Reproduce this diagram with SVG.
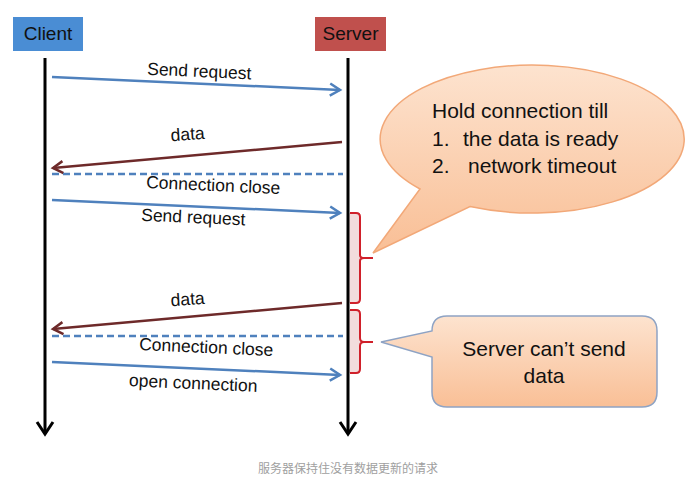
<svg xmlns="http://www.w3.org/2000/svg" width="697" height="486" viewBox="0 0 697 486">
<style>
.lbl{font-family:"Liberation Sans","Open Sans",sans-serif;font-size:17.5px;fill:#111}
.big{font-family:"Liberation Sans","Open Sans",sans-serif;font-size:21px;fill:#111}
.hdr{font-family:"Liberation Sans","Open Sans",sans-serif;font-size:19px;fill:#111}
.blue{stroke:#4F81BD;stroke-width:2.5;fill:none}
.red{stroke:#6E2A2A;stroke-width:2.5;fill:none}
.dash{stroke:#4F81BD;stroke-width:2.5;stroke-dasharray:7,4;fill:none}
.life{stroke:#000;stroke-width:3;fill:none}
.brk{stroke:#D0202A;stroke-width:2;fill:none}
.brkfill{fill:#F2DCDC}
</style>
<defs>
<marker id="ab" viewBox="0 0 10 10" refX="9" refY="5" markerWidth="10" markerHeight="10" orient="auto" markerUnits="userSpaceOnUse" style="overflow:visible">
<path d="M-1,-1 L9,5 L-1,11" fill="none" stroke="#4F81BD" stroke-width="2.5"/>
</marker>
<marker id="ar" viewBox="0 0 10 10" refX="9" refY="5" markerWidth="10" markerHeight="10" orient="auto" markerUnits="userSpaceOnUse" style="overflow:visible">
<path d="M-1,-1 L9,5 L-1,11" fill="none" stroke="#6E2A2A" stroke-width="2.5"/>
</marker>
<marker id="ak" viewBox="0 0 10 10" refX="9" refY="5" markerWidth="10" markerHeight="10" orient="auto" markerUnits="userSpaceOnUse" style="overflow:visible">
<path d="M-3,-3 L9,5 L-3,13" fill="none" stroke="#000" stroke-width="3"/>
</marker>
<linearGradient id="peach" x1="0" y1="0" x2="0" y2="1">
<stop offset="0" stop-color="#FDE3CF"/>
<stop offset="1" stop-color="#F9BF96"/>
</linearGradient>
</defs>
<g id="client">
<rect x="13" y="17" width="70" height="34" fill="#4A8DD4"/>
<text class="hdr" x="48" y="40" text-anchor="middle">Client</text>
</g>
<g id="server">
<rect x="315" y="17" width="71" height="34" fill="#C0504D"/>
<text class="hdr" x="350.5" y="40" text-anchor="middle">Server</text>
</g>
<g id="connectors">
<rect class="brkfill" x="349" y="213" width="11" height="90"/>
<rect class="brkfill" x="349" y="310" width="11" height="63"/>
<line class="life" x1="45" y1="58" x2="45" y2="434" marker-end="url(#ak)"/>
<line class="life" x1="348" y1="58" x2="348" y2="434" marker-end="url(#ak)"/>
<line class="blue" x1="52" y1="77" x2="340" y2="90" marker-end="url(#ab)"/>
<line class="red" x1="342" y1="142" x2="53" y2="168" marker-end="url(#ar)"/>
<line class="dash" x1="52" y1="174" x2="343" y2="174"/>
<line class="blue" x1="52" y1="200" x2="340" y2="213" marker-end="url(#ab)"/>
<line class="red" x1="342" y1="303" x2="53" y2="329" marker-end="url(#ar)"/>
<line class="dash" x1="52" y1="336" x2="343" y2="336"/>
<line class="blue" x1="52" y1="362" x2="340" y2="375" marker-end="url(#ab)"/>
<path class="brk" d="M350,213 L356,213 Q360,213 360,217 L360,255 Q360,258 364,258 L373,258 M364,258 Q360,258 360,261 L360,299 Q360,303 356,303 L350,303"/>
<path class="brk" d="M350,310 L356,310 Q360,310 360,314 L360,338 Q360,342 364,342 L373,342 M364,342 Q360,342 360,346 L360,369 Q360,373 356,373 L350,373"/>
</g>
<g id="labels">
<text class="lbl" x="199" y="77" text-anchor="middle" transform="rotate(2.6 199 77)">Send request</text>
<text class="lbl" x="188" y="140" text-anchor="middle" transform="rotate(-4 188 140)">data</text>
<text class="lbl" x="213" y="191" text-anchor="middle" transform="rotate(2.6 213 191)">Connection close</text>
<text class="lbl" x="193" y="223" text-anchor="middle" transform="rotate(2.6 193 223)">Send request</text>
<text class="lbl" x="188" y="305" text-anchor="middle" transform="rotate(-4 188 305)">data</text>
<text class="lbl" x="206" y="353" text-anchor="middle" transform="rotate(2.6 206 353)">Connection close</text>
<text class="lbl" x="193" y="389" text-anchor="middle" transform="rotate(2.6 193 389)">open connection</text>
</g>
<g id="hold-callout">
<path d="M420,189 A152,74 0 1 1 470,206.6 L373,253 Z" fill="url(#peach)" stroke="#F2A878" stroke-width="1.5"/>
<text class="big" x="432" y="118">Hold connection till</text>
<text class="big" x="432" y="146">1.</text>
<text class="big" x="463" y="146">the data is ready</text>
<text class="big" x="432" y="173">2.</text>
<text class="big" x="468" y="173">network timeout</text>
</g>
<g id="cant-send-callout">
<path d="M447,316 L642,316 Q657,316 657,331 L657,392 Q657,407 642,407 L447,407 Q432,407 432,392 L432,357 L381,342 L432,331 Q432,316 447,316 Z" fill="url(#peach)" stroke="#8EA3C4" stroke-width="1.5"/>
<text class="big" x="544" y="356" text-anchor="middle" font-size="20.5">Server can’t send</text>
<text class="big" x="544" y="383" text-anchor="middle" font-size="20.5">data</text>
</g>
<text x="348" y="473" text-anchor="middle" font-family="'Noto Sans CJK SC',sans-serif" font-size="12" fill="#A0A0A0">服务器保持住没有数据更新的请求</text>
</svg>
